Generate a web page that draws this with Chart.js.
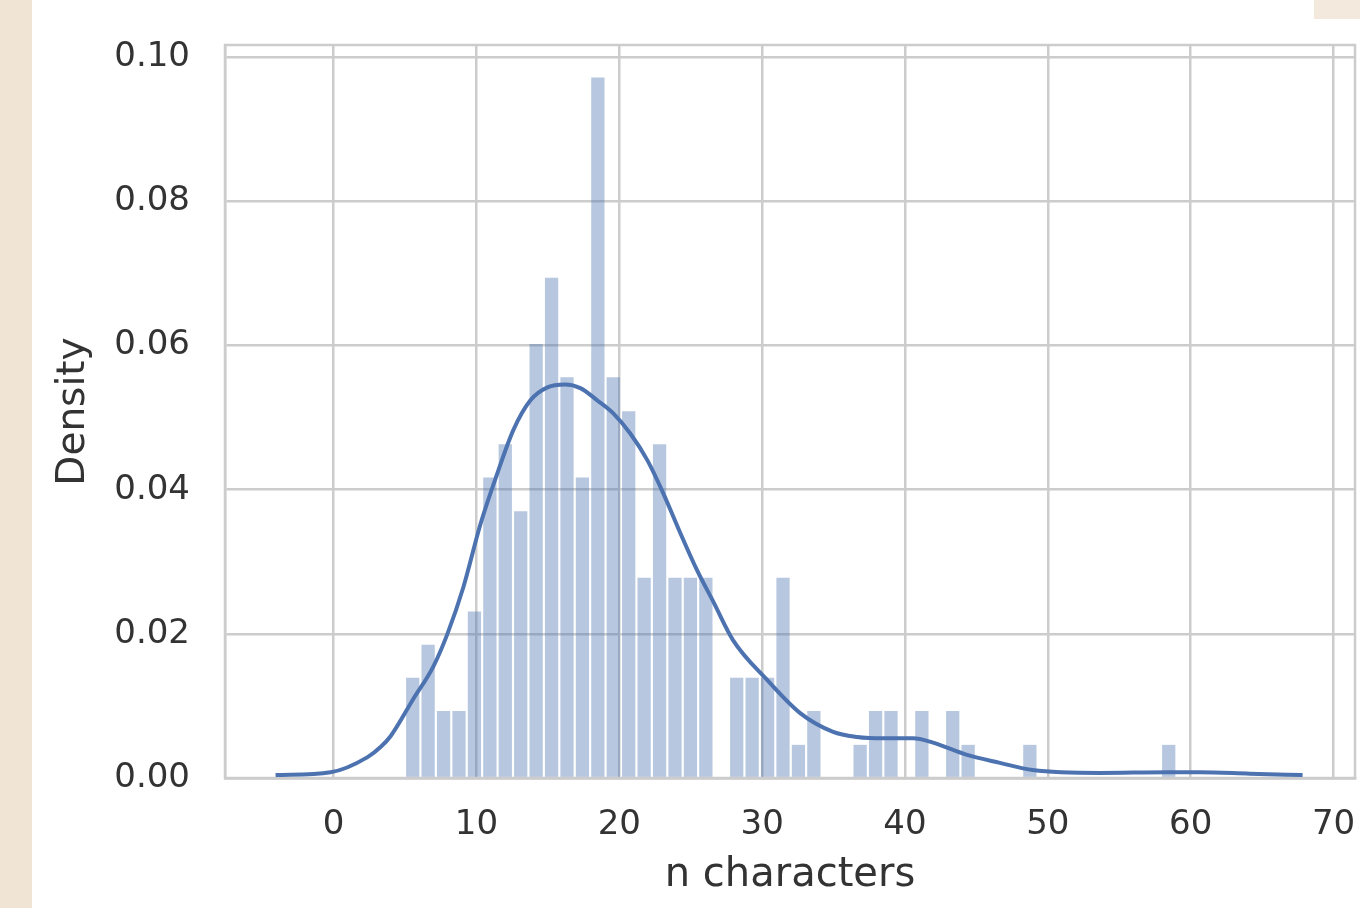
<!DOCTYPE html>
<html>
<head>
<meta charset="utf-8">
<script src="https://cdn.jsdelivr.net/npm/chart.js@4"></script>
<style>
  html, body { margin: 0; padding: 0; }
  body { width: 1360px; height: 908px; background: #f0e4d4; position: relative; overflow: hidden; }
  #panel { position: absolute; left: 32px; top: 0; width: 1328px; height: 908px; background: #ffffff; }
  #esquina { position: absolute; left: 1314px; top: 0; width: 46px; height: 19px; background: #f3e9dd; }
  #contenedor { position: absolute; left: 32px; top: 0; width: 1328px; height: 908px; }
</style>
</head>
<body>
<div id="panel"></div>
<div id="esquina"></div>
<div id="contenedor"><canvas id="grafico"></canvas></div>
<script>
// Histograma (densidad) + curva KDE.

// centros de los 50 bins (ancho ~1.08 caracteres)
const centrosBins = [
  5.54, 6.62, 7.70, 8.78, 9.86, 10.94, 12.02, 13.10, 14.18, 15.26,
  16.34, 17.42, 18.50, 19.58, 20.66, 21.74, 22.82, 23.90, 24.98, 26.06,
  27.14, 28.22, 29.30, 30.38, 31.46, 32.54, 33.62, 34.70, 35.78, 36.86,
  37.94, 39.02, 40.10, 41.18, 42.26, 43.34, 44.42, 45.50, 46.58, 47.66,
  48.74, 49.82, 50.90, 51.98, 53.06, 54.14, 55.22, 56.30, 57.38, 58.46,
];

const densidades = [
  0.0139, 0.0185, 0.0093, 0.0093, 0.0231, 0.0417, 0.0463, 0.0370, 0.0602, 0.0694,
  0.0556, 0.0417, 0.0972, 0.0556, 0.0509, 0.0278, 0.0463, 0.0278, 0.0278, 0.0278,
  0, 0.0139, 0.0139, 0.0139, 0.0278, 0.0046, 0.0093, 0, 0, 0.0046,
  0.0093, 0.0093, 0, 0.0093, 0, 0.0093, 0.0046, 0, 0, 0,
  0.0046, 0, 0, 0, 0, 0, 0, 0, 0, 0.0046,
];

// curva KDE
const kdeX = [
  -4.06, -0.21, 2.38, 3.29, 3.99, 5.59, 6.99, 7.97, 9.09, 10.28,
  11.47, 12.59, 13.78, 14.97, 16.22, 17.27, 18.46, 19.58, 20.77, 21.96,
  23.08, 24.27, 25.45, 26.57, 27.97, 30.35, 32.66, 34.97, 36.64, 38.46,
  40.56, 41.96, 44.34, 46.64, 48.95, 53.64, 58.32, 60.63, 64.13, 67.83,
];
const kdeY = [
  0.0004, 0.0008, 0.0029, 0.0043, 0.0058, 0.0110, 0.0155, 0.0200, 0.0265, 0.0352,
  0.0423, 0.0483, 0.0524, 0.0542, 0.0546, 0.0541, 0.0524, 0.0506, 0.0478, 0.0441,
  0.0395, 0.0340, 0.0288, 0.0245, 0.0191, 0.0136, 0.0090, 0.0064, 0.0057, 0.0055,
  0.0055, 0.0049, 0.0032, 0.0021, 0.0011, 0.0007, 0.0008, 0.0008, 0.0006, 0.0004,
];

const ticksY = [0, 0.02, 0.04, 0.06, 0.08, 0.10];

const AZUL = '#4c72b0';
const GRIS = '#cccccc';
const TEXTO = '#333333';
const FUENTE = 'DejaVu Sans';

// marco completo del área de datos (arriba y derecha incluidos)
const marco = {
  id: 'marco',
  beforeDatasetsDraw(chart) {
    const { ctx, chartArea: a } = chart;
    ctx.save();
    ctx.strokeStyle = GRIS;
    ctx.lineWidth = 2.5;
    ctx.strokeRect(a.left, a.top, a.right - a.left, a.bottom - a.top);
    ctx.restore();
  },
};

// tamaño fijo de cada eje, sin el relleno extra que Chart.js reserva para las etiquetas
function fijarEje(eje, tam) {
  if (eje.isHorizontal()) eje.height = tam;
  else eje.width = tam;
  eje.paddingTop = 0;
  eje.paddingBottom = 0;
  eje.paddingLeft = 0;
  eje.paddingRight = 0;
}

function construirConfiguracion() {
  return {
    type: 'bar',
    data: {
      datasets: [
        {
          type: 'line',
          order: 0,
          data: kdeX.map((x, i) => ({ x, y: kdeY[i] })),
          borderColor: AZUL,
          borderWidth: 4,
          pointRadius: 0,
          cubicInterpolationMode: 'monotone',
          fill: false,
        },
        {
          type: 'bar',
          order: 1,
          data: centrosBins.map((x, i) => ({ x, y: densidades[i] })),
          backgroundColor: 'rgba(76, 114, 176, 0.4)',
          borderWidth: 0,
          categoryPercentage: 1,
          barPercentage: 0.86,
        },
      ],
    },
    options: {
      responsive: true,
      maintainAspectRatio: false,
      animation: false,
      layout: { padding: { top: 45, right: 5, left: 0, bottom: 0 } },
      plugins: {
        legend: { display: false },
        tooltip: { enabled: false },
      },
      scales: {
        x: {
          type: 'linear',
          min: -7.6,
          max: 71.5,
          offset: false,
          afterFit: (eje) => fijarEje(eje, 130),
          ticks: {
            stepSize: 10,
            includeBounds: false,
            padding: 27,
            color: TEXTO,
            font: { family: FUENTE, size: 34 },
          },
          grid: { color: GRIS, lineWidth: 2.5, drawTicks: false, offset: false },
          border: { color: GRIS, width: 2.5 },
          title: {
            display: true,
            text: 'n characters',
            color: TEXTO,
            font: { family: FUENTE, size: 40 },
            padding: { top: 0, bottom: 8 },
          },
        },
        y: {
          min: 0,
          max: 0.1017,
          afterFit: (eje) => fijarEje(eje, 193),
          afterBuildTicks: (eje) => { eje.ticks = ticksY.map((v) => ({ value: v })); },
          ticks: {
            padding: 35,
            color: TEXTO,
            font: { family: FUENTE, size: 34 },
            callback: (v) => Number(v).toFixed(2),
          },
          grid: { color: GRIS, lineWidth: 2.5, drawTicks: false },
          border: { color: GRIS, width: 2.5 },
          title: {
            display: true,
            text: 'Density',
            color: TEXTO,
            font: { family: FUENTE, size: 39 },
            padding: { top: 18, bottom: 0 },
          },
        },
      },
    },
    plugins: [marco],
  };
}

new Chart(document.getElementById('grafico'), construirConfiguracion());
</script>
</body>
</html>
